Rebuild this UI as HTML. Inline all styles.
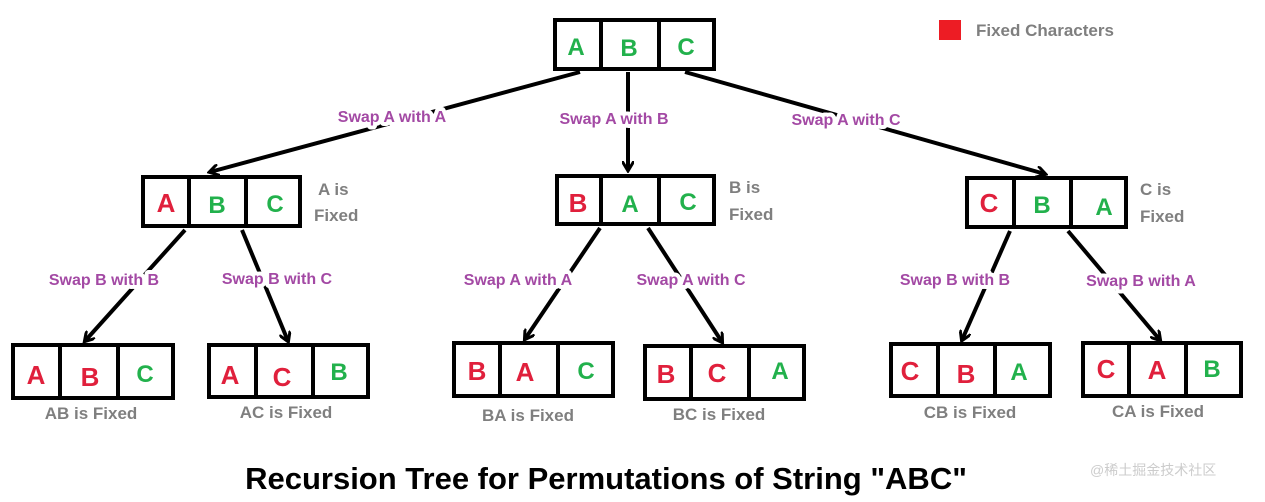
<!DOCTYPE html>
<html><head><style>
body{margin:0;background:#fff;width:1265px;height:497px;overflow:hidden}
svg text{font-family:"Liberation Sans","Noto Sans CJK SC",sans-serif;font-weight:bold}
.r{fill:#e0203c;font-size:26px}
.g{fill:#22b14c;font-size:24px}
.p{fill:#a349a4;font-size:16px;stroke:#fff;stroke-width:8px;paint-order:stroke;stroke-linejoin:round}
.k{fill:#7f7f7f;font-size:17px}
</style></head><body>
<svg width="1265" height="497" xmlns="http://www.w3.org/2000/svg">
<defs><marker id="a" markerWidth="12" markerHeight="12" refX="9" refY="6" orient="auto" markerUnits="userSpaceOnUse"><path d="M0,0 L10,6 L0,12" fill="none" stroke="#000" stroke-width="3"/></marker></defs>
<g stroke="#000" stroke-width="4" fill="none" marker-end="url(#a)">
<line x1="580" y1="72" x2="210" y2="172"/>
<line x1="628" y1="72" x2="628" y2="170"/>
<line x1="685" y1="72" x2="1045" y2="174"/>
<line x1="185" y1="230" x2="85" y2="341"/>
<line x1="242" y1="230" x2="288" y2="341"/>
<line x1="600" y1="228" x2="525" y2="339"/>
<line x1="648" y1="228" x2="722" y2="342"/>
<line x1="1010" y1="231" x2="962" y2="340"/>
<line x1="1068" y1="231" x2="1160" y2="340"/>
</g>
<g stroke="#000" stroke-width="4" fill="#fff">
<rect x="555" y="20" width="159" height="49"/><line x1="601" y1="20" x2="601" y2="69"/><line x1="659" y1="20" x2="659" y2="69"/>
<rect x="143" y="177" width="157" height="49"/><line x1="189" y1="177" x2="189" y2="226"/><line x1="246" y1="177" x2="246" y2="226"/>
<rect x="557" y="176" width="157" height="48"/><line x1="601" y1="176" x2="601" y2="224"/><line x1="659" y1="176" x2="659" y2="224"/>
<rect x="967" y="178" width="159" height="49"/><line x1="1014" y1="178" x2="1014" y2="227"/><line x1="1071" y1="178" x2="1071" y2="227"/>
<rect x="13" y="345" width="160" height="53"/><line x1="60" y1="345" x2="60" y2="398"/><line x1="118" y1="345" x2="118" y2="398"/>
<rect x="209" y="345" width="159" height="52"/><line x1="256" y1="345" x2="256" y2="397"/><line x1="313" y1="345" x2="313" y2="397"/>
<rect x="454" y="343" width="159" height="53"/><line x1="500" y1="343" x2="500" y2="396"/><line x1="558" y1="343" x2="558" y2="396"/>
<rect x="645" y="346" width="159" height="53"/><line x1="691" y1="346" x2="691" y2="399"/><line x1="749" y1="346" x2="749" y2="399"/>
<rect x="891" y="344" width="159" height="52"/><line x1="938" y1="344" x2="938" y2="396"/><line x1="995" y1="344" x2="995" y2="396"/>
<rect x="1083" y="343" width="158" height="53"/><line x1="1129" y1="343" x2="1129" y2="396"/><line x1="1186" y1="343" x2="1186" y2="396"/>
</g>
<g text-anchor="middle">
<text class="g" x="576" y="55">A</text><text class="g" x="629" y="56">B</text><text class="g" x="686" y="55">C</text>
<text class="r" x="166" y="212">A</text><text class="g" x="217" y="213">B</text><text class="g" x="275" y="212">C</text>
<text class="r" x="578" y="212">B</text><text class="g" x="630" y="212">A</text><text class="g" x="688" y="210">C</text>
<text class="r" x="989" y="212">C</text><text class="g" x="1042" y="213">B</text><text class="g" x="1104" y="215">A</text>
<text class="r" x="36" y="384">A</text><text class="r" x="90" y="386">B</text><text class="g" x="145" y="382">C</text>
<text class="r" x="230" y="384">A</text><text class="r" x="282" y="386">C</text><text class="g" x="339" y="380">B</text>
<text class="r" x="477" y="380">B</text><text class="r" x="525" y="381">A</text><text class="g" x="586" y="379">C</text>
<text class="r" x="666" y="383">B</text><text class="r" x="717" y="382">C</text><text class="g" x="780" y="379">A</text>
<text class="r" x="910" y="380">C</text><text class="r" x="966" y="383">B</text><text class="g" x="1019" y="380">A</text>
<text class="r" x="1106" y="378">C</text><text class="r" x="1157" y="379">A</text><text class="g" x="1212" y="377">B</text>
<text class="p" x="392" y="122">Swap A with A</text>
<text class="p" x="614" y="124">Swap A with B</text>
<text class="p" x="846" y="125">Swap A with C</text>
<text class="p" x="104" y="285">Swap B with B</text>
<text class="p" x="277" y="284">Swap B with C</text>
<text class="p" x="518" y="285">Swap A with A</text>
<text class="p" x="691" y="285">Swap A with C</text>
<text class="p" x="955" y="285">Swap B with B</text>
<text class="p" x="1141" y="286">Swap B with A</text>
<text class="k" x="91" y="419">AB is Fixed</text>
<text class="k" x="286" y="418">AC is Fixed</text>
<text class="k" x="528" y="421">BA is Fixed</text>
<text class="k" x="719" y="420">BC is Fixed</text>
<text class="k" x="970" y="418">CB is Fixed</text>
<text class="k" x="1158" y="417">CA is Fixed</text>
<text x="606" y="489" style="font-size:31px;fill:#000">Recursion Tree for Permutations of String "ABC"</text>
</g>
<text class="k" x="318" y="195">A is</text><text class="k" x="314" y="221">Fixed</text>
<text class="k" x="729" y="193">B is</text><text class="k" x="729" y="220">Fixed</text>
<text class="k" x="1140" y="195">C is</text><text class="k" x="1140" y="222">Fixed</text>
<rect x="939" y="20" width="22" height="20" fill="#ed1c24"/>
<text class="k" x="976" y="36">Fixed Characters</text>
<text x="1090" y="475" style="font-size:14px;fill:#ccc;font-weight:normal">@稀土掘金技术社区</text>
</svg>
</body></html>
